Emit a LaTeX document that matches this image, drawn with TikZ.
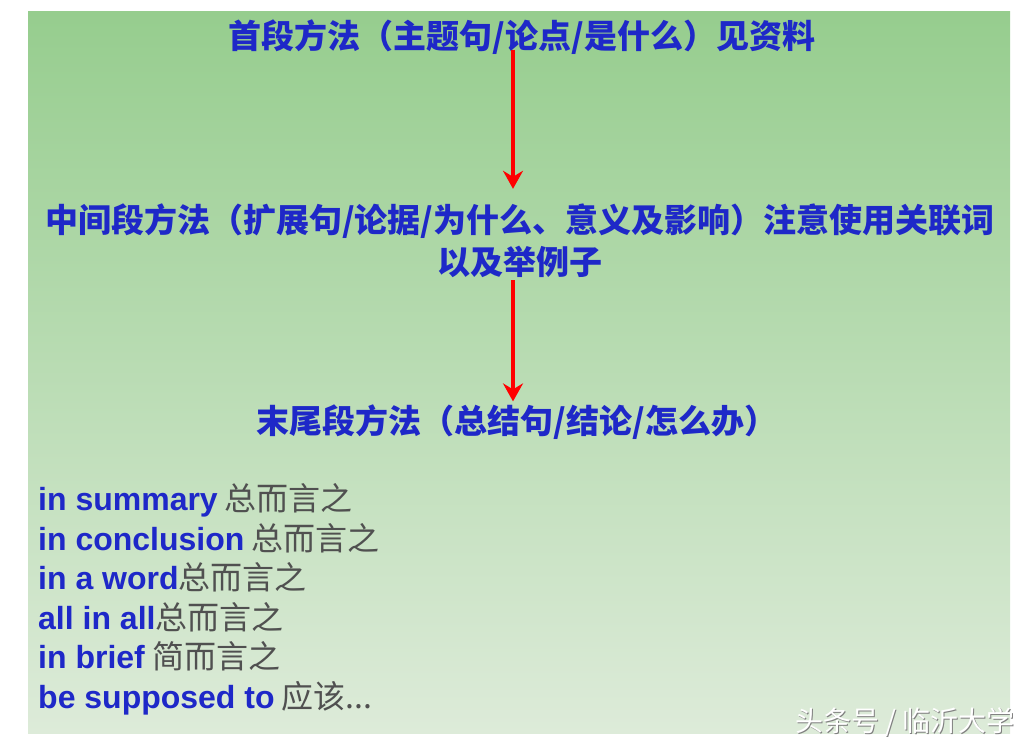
\documentclass[tikz,border=0pt]{standalone}
\usepackage{fontspec}
\setmainfont{Liberation Sans}
\newfontfamily\cjk{Noto Sans CJK SC}
\usetikzlibrary{arrows.meta}
\definecolor{bgtop}{HTML}{96CD8E}
\definecolor{bgbottom}{HTML}{DDEBD9}
\definecolor{headblue}{HTML}{1E28C8}
\definecolor{termgray}{HTML}{505050}
\tikzset{
  head/.style={text=headblue, font=\cjk\bfseries\fontsize{33}{42}\selectfont, inner sep=0pt, align=center},
  term/.style={anchor=base west, inner sep=0pt, font=\fontsize{32}{36}\selectfont},
  flow/.style={draw=red, line width=4pt, -{Stealth[length=18pt, width=20pt, inset=6pt]}},
  stamp/.style={font=\cjk\fontsize{28}{30}\selectfont, inner sep=0pt},
}
\newcommand{\phrase}[2]{\textcolor{headblue}{\bfseries #1}\textcolor{termgray}{\cjk #2}}
\begin{document}
\begin{tikzpicture}[x=1pt, y=-1pt]
\useasboundingbox (0,0) rectangle (1036,750);
\shade[top color=bgtop, bottom color=bgbottom] (28,11) rectangle (1010,733);
% the three paragraph steps
\node[head] (first) at (522,37) {首段方法（主题句/论点/是什么）见资料};
\node[head] (middle) at (520,241) {中间段方法（扩展句/论据/为什么、意义及影响）注意使用关联词\\以及举例子};
\node[head] (last) at (517,422) {末尾段方法（总结句/结论/怎么办）};
\coordinate (axis) at (513,0);
\draw[flow, shorten <=-5pt, shorten >=15pt] (first.south -| axis) -- (middle.north -| axis);
\draw[flow, shorten <=2pt, shorten >=3pt] (middle.south -| axis) -- (last.north -| axis);
% closing phrases
\node[term] (summary) at (38,510) {\phrase{in summary}{ 总而言之}};
\node[term] (conclusion) at (38,550) {\phrase{in conclusion}{ 总而言之}};
\node[term] (word) at (38,589) {\phrase{in a word}{总而言之}};
\node[term] (allinall) at (38,629) {\phrase{all in all}{总而言之}};
\node[term] (brief) at (38,668) {\phrase{in brief}{ 简而言之}};
\node[term] (supposed) at (38,708) {\phrase{be supposed to}{ 应该...}};
% watermark
\node[stamp, text=gray] (markshade) at (906,723) {头条号 / 临沂大学};
\node[stamp, text=white] (marktext) at (905,722) {头条号 / 临沂大学};
\end{tikzpicture}
\end{document}
